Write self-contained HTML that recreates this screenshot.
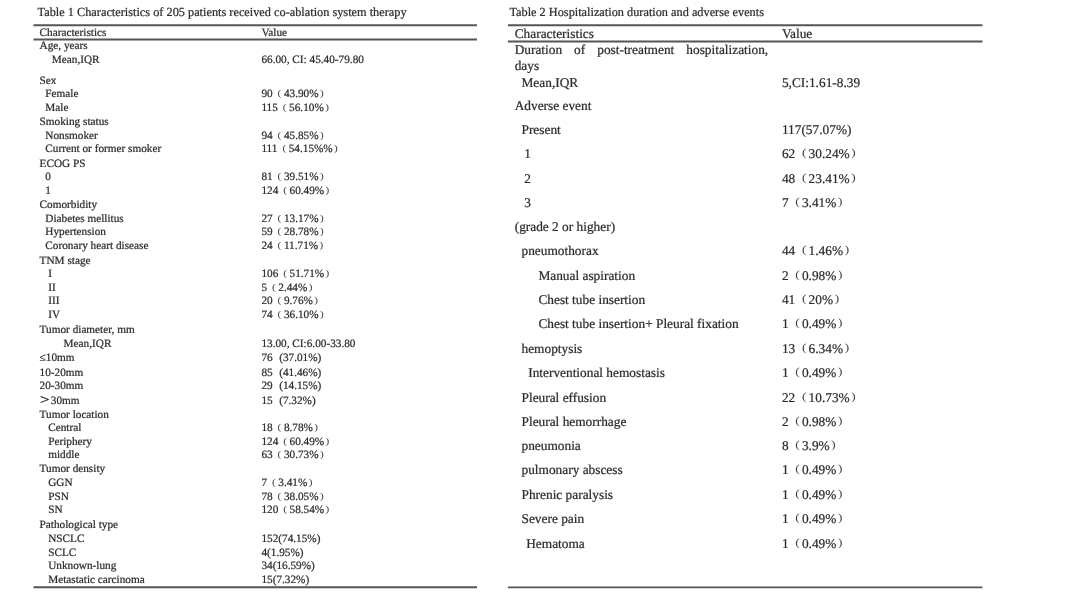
<!DOCTYPE html>
<html><head><meta charset="utf-8"><title>Tables</title>
<style>
html,body{margin:0;padding:0;background:#fff;}
body{width:1080px;height:608px;position:relative;overflow:hidden;font-family:"Liberation Serif",serif;color:#2b2b2b;}
.t{position:absolute;white-space:nowrap;line-height:1;text-rendering:geometricPrecision;-webkit-text-stroke:0.22px #2b2b2b;}
#wrap{position:absolute;left:0;top:0;width:1080px;height:608px;filter:grayscale(1);}
.j{display:flex;justify-content:space-between;}
.rs{position:absolute;left:0;top:0;}
.lp,.rp{display:inline-block;width:1em;box-sizing:border-box;transform-origin:50% 60%;transform:translateY(-0.1em) scaleY(0.8);color:#444;-webkit-text-stroke:0;}
.lp{padding-left:0.44em;}
.t2 .lp{padding-left:0.5em;}
.rp{padding-left:0.12em;}
.g{display:inline-block;width:0.58em;}
.gt{display:inline-block;width:1em;transform:scale(1.5,1.2);transform-origin:0 75%;}
</style></head><body>
<div id="wrap">
<svg class="rs" width="1080" height="608" viewBox="0 0 1080 608"><g stroke="#555"><line x1="33.5" x2="477" y1="25.3" y2="25.3" stroke-width="1.9"/><line x1="33.5" x2="477" y1="39.45" y2="39.45" stroke-width="1.9"/><line x1="33.5" x2="477" y1="587.2" y2="587.2" stroke-width="1.9"/><line x1="507.9" x2="982.4" y1="25.2" y2="25.2" stroke-width="1.9"/><line x1="507.9" x2="982.4" y1="41.5" y2="41.5" stroke-width="1.9"/><line x1="507.9" x2="982.4" y1="587.4" y2="587.4" stroke-width="1.9"/></g></svg>
<div class="t" style="left:37.6px;top:6.00px;font-size:12.3px;">Table 1 Characteristics of 205 patients received co-ablation system therapy</div>
<div class="t" style="left:39.6px;top:28.00px;font-size:11.25px;">Characteristics</div>
<div class="t" style="left:261.4px;top:28.00px;font-size:11.25px;">Value</div>
<div class="t" style="left:39.6px;top:41.00px;font-size:11.25px;">Age, years</div>
<div class="t" style="left:51.8px;top:55.00px;font-size:11.25px;">Mean,IQR</div>
<div class="t" style="left:261.4px;top:55.00px;font-size:11.25px;">66.00, CI: 45.40-79.80</div>
<div class="t" style="left:39.6px;top:76.00px;font-size:11.25px;">Sex</div>
<div class="t" style="left:45.3px;top:89.00px;font-size:11.25px;">Female</div>
<div class="t" style="left:261.4px;top:89.00px;font-size:11.25px;">90<span class="lp">(</span>43.90%<span class="rp">)</span></div>
<div class="t" style="left:45.3px;top:103.00px;font-size:11.25px;">Male</div>
<div class="t" style="left:261.4px;top:103.00px;font-size:11.25px;">115<span class="lp">(</span>56.10%<span class="rp">)</span></div>
<div class="t" style="left:39.6px;top:117.00px;font-size:11.25px;">Smoking status</div>
<div class="t" style="left:45.3px;top:131.00px;font-size:11.25px;">Nonsmoker</div>
<div class="t" style="left:261.4px;top:131.00px;font-size:11.25px;">94<span class="lp">(</span>45.85%<span class="rp">)</span></div>
<div class="t" style="left:45.3px;top:144.00px;font-size:11.25px;">Current or former smoker</div>
<div class="t" style="left:261.4px;top:144.00px;font-size:11.25px;">111<span class="lp">(</span>54.15%%<span class="rp">)</span></div>
<div class="t" style="left:39.6px;top:159.00px;font-size:11.25px;">ECOG PS</div>
<div class="t" style="left:45.3px;top:172.00px;font-size:11.25px;">0</div>
<div class="t" style="left:261.4px;top:172.00px;font-size:11.25px;">81<span class="lp">(</span>39.51%<span class="rp">)</span></div>
<div class="t" style="left:45.3px;top:186.00px;font-size:11.25px;">1</div>
<div class="t" style="left:261.4px;top:186.00px;font-size:11.25px;">124<span class="lp">(</span>60.49%<span class="rp">)</span></div>
<div class="t" style="left:39.6px;top:200.00px;font-size:11.25px;">Comorbidity</div>
<div class="t" style="left:45.3px;top:214.00px;font-size:11.25px;">Diabetes mellitus</div>
<div class="t" style="left:261.4px;top:214.00px;font-size:11.25px;">27<span class="lp">(</span>13.17%<span class="rp">)</span></div>
<div class="t" style="left:45.3px;top:227.00px;font-size:11.25px;">Hypertension</div>
<div class="t" style="left:261.4px;top:227.00px;font-size:11.25px;">59<span class="lp">(</span>28.78%<span class="rp">)</span></div>
<div class="t" style="left:45.3px;top:241.00px;font-size:11.25px;">Coronary heart disease</div>
<div class="t" style="left:261.4px;top:241.00px;font-size:11.25px;">24<span class="lp">(</span>11.71%<span class="rp">)</span></div>
<div class="t" style="left:39.6px;top:256.00px;font-size:11.25px;">TNM stage</div>
<div class="t" style="left:48.2px;top:269.00px;font-size:11.25px;">I</div>
<div class="t" style="left:261.4px;top:269.00px;font-size:11.25px;">106<span class="lp">(</span>51.71%<span class="rp">)</span></div>
<div class="t" style="left:48.2px;top:283.00px;font-size:11.25px;">II</div>
<div class="t" style="left:261.4px;top:283.00px;font-size:11.25px;">5<span class="lp">(</span>2.44%<span class="rp">)</span></div>
<div class="t" style="left:48.2px;top:296.00px;font-size:11.25px;">III</div>
<div class="t" style="left:261.4px;top:296.00px;font-size:11.25px;">20<span class="lp">(</span>9.76%<span class="rp">)</span></div>
<div class="t" style="left:48.2px;top:310.00px;font-size:11.25px;">IV</div>
<div class="t" style="left:261.4px;top:310.00px;font-size:11.25px;">74<span class="lp">(</span>36.10%<span class="rp">)</span></div>
<div class="t" style="left:39.6px;top:325.00px;font-size:11.25px;">Tumor diameter, mm</div>
<div class="t" style="left:63.6px;top:339.00px;font-size:11.25px;">Mean,IQR</div>
<div class="t" style="left:261.4px;top:339.00px;font-size:11.25px;">13.00, CI:6.00-33.80</div>
<div class="t" style="left:39.6px;top:353.00px;font-size:11.25px;">≤10mm</div>
<div class="t" style="left:261.4px;top:353.00px;font-size:11.25px;">76<span class="g"></span>(37.01%)</div>
<div class="t" style="left:39.6px;top:368.00px;font-size:11.25px;">10-20mm</div>
<div class="t" style="left:261.4px;top:368.00px;font-size:11.25px;">85<span class="g"></span>(41.46%)</div>
<div class="t" style="left:39.6px;top:381.00px;font-size:11.25px;">20-30mm</div>
<div class="t" style="left:261.4px;top:381.00px;font-size:11.25px;">29<span class="g"></span>(14.15%)</div>
<div class="t" style="left:39.6px;top:396.00px;font-size:11.25px;"><span class="gt">&gt;</span>30mm</div>
<div class="t" style="left:261.4px;top:396.00px;font-size:11.25px;">15<span class="g"></span>(7.32%)</div>
<div class="t" style="left:39.6px;top:410.00px;font-size:11.25px;">Tumor location</div>
<div class="t" style="left:48.2px;top:423.00px;font-size:11.25px;">Central</div>
<div class="t" style="left:261.4px;top:423.00px;font-size:11.25px;">18<span class="lp">(</span>8.78%<span class="rp">)</span></div>
<div class="t" style="left:48.2px;top:437.00px;font-size:11.25px;">Periphery</div>
<div class="t" style="left:261.4px;top:437.00px;font-size:11.25px;">124<span class="lp">(</span>60.49%<span class="rp">)</span></div>
<div class="t" style="left:48.2px;top:450.00px;font-size:11.25px;">middle</div>
<div class="t" style="left:261.4px;top:450.00px;font-size:11.25px;">63<span class="lp">(</span>30.73%<span class="rp">)</span></div>
<div class="t" style="left:39.6px;top:464.00px;font-size:11.25px;">Tumor density</div>
<div class="t" style="left:48.2px;top:478.00px;font-size:11.25px;">GGN</div>
<div class="t" style="left:261.4px;top:478.00px;font-size:11.25px;">7<span class="lp">(</span>3.41%<span class="rp">)</span></div>
<div class="t" style="left:48.2px;top:492.00px;font-size:11.25px;">PSN</div>
<div class="t" style="left:261.4px;top:492.00px;font-size:11.25px;">78<span class="lp">(</span>38.05%<span class="rp">)</span></div>
<div class="t" style="left:48.2px;top:505.00px;font-size:11.25px;">SN</div>
<div class="t" style="left:261.4px;top:505.00px;font-size:11.25px;">120<span class="lp">(</span>58.54%<span class="rp">)</span></div>
<div class="t" style="left:39.6px;top:520.00px;font-size:11.25px;">Pathological type</div>
<div class="t" style="left:48.2px;top:534.00px;font-size:11.25px;">NSCLC</div>
<div class="t" style="left:261.4px;top:534.00px;font-size:11.25px;">152(74.15%)</div>
<div class="t" style="left:48.2px;top:548.00px;font-size:11.25px;">SCLC</div>
<div class="t" style="left:261.4px;top:548.00px;font-size:11.25px;">4(1.95%)</div>
<div class="t" style="left:48.2px;top:561.00px;font-size:11.25px;">Unknown-lung</div>
<div class="t" style="left:261.4px;top:561.00px;font-size:11.25px;">34(16.59%)</div>
<div class="t" style="left:48.2px;top:575.00px;font-size:11.25px;">Metastatic carcinoma</div>
<div class="t" style="left:261.4px;top:575.00px;font-size:11.25px;">15(7.32%)</div>
<div class="t" style="left:509.4px;top:6.00px;font-size:12.3px;">Table 2 Hospitalization duration and adverse events</div>
<div class="t t2" style="left:514.7px;top:27.00px;font-size:13.35px;">Characteristics</div>
<div class="t t2" style="left:781.9px;top:27.00px;font-size:13.35px;">Value</div>
<div class="t j" style="left:514.7px;top:43.00px;width:253.5px;font-size:13.35px"><span>Duration</span><span>of</span><span>post-treatment</span><span>hospitalization,</span></div>
<div class="t t2" style="left:514.7px;top:59.00px;font-size:13.35px;">days</div>
<div class="t t2" style="left:521.5px;top:76.00px;font-size:13.35px;">Mean,IQR</div>
<div class="t t2" style="left:781.9px;top:76.00px;font-size:13.35px;">5,CI:1.61-8.39</div>
<div class="t t2" style="left:514.7px;top:99.00px;font-size:13.35px;">Adverse event</div>
<div class="t t2" style="left:521.5px;top:123.00px;font-size:13.35px;">Present</div>
<div class="t t2" style="left:781.9px;top:123.00px;font-size:13.35px;">117(57.07%)</div>
<div class="t t2" style="left:524.2px;top:147.00px;font-size:13.35px;">1</div>
<div class="t t2" style="left:781.9px;top:147.00px;font-size:13.35px;">62<span class="lp">(</span>30.24%<span class="rp">)</span></div>
<div class="t t2" style="left:524.2px;top:172.00px;font-size:13.35px;">2</div>
<div class="t t2" style="left:781.9px;top:172.00px;font-size:13.35px;">48<span class="lp">(</span>23.41%<span class="rp">)</span></div>
<div class="t t2" style="left:524.2px;top:196.00px;font-size:13.35px;">3</div>
<div class="t t2" style="left:781.9px;top:196.00px;font-size:13.35px;">7<span class="lp">(</span>3.41%<span class="rp">)</span></div>
<div class="t t2" style="left:514.7px;top:220.00px;font-size:13.35px;">(grade 2 or higher)</div>
<div class="t t2" style="left:521.5px;top:244.00px;font-size:13.35px;">pneumothorax</div>
<div class="t t2" style="left:781.9px;top:244.00px;font-size:13.35px;">44<span class="lp">(</span>1.46%<span class="rp">)</span></div>
<div class="t t2" style="left:538.4px;top:269.00px;font-size:13.35px;">Manual aspiration</div>
<div class="t t2" style="left:781.9px;top:269.00px;font-size:13.35px;">2<span class="lp">(</span>0.98%<span class="rp">)</span></div>
<div class="t t2" style="left:538.4px;top:293.00px;font-size:13.35px;">Chest tube insertion</div>
<div class="t t2" style="left:781.9px;top:293.00px;font-size:13.35px;">41<span class="lp">(</span>20%<span class="rp">)</span></div>
<div class="t t2" style="left:538.4px;top:317.00px;font-size:13.35px;">Chest tube insertion+ Pleural fixation</div>
<div class="t t2" style="left:781.9px;top:317.00px;font-size:13.35px;">1<span class="lp">(</span>0.49%<span class="rp">)</span></div>
<div class="t t2" style="left:521.5px;top:342.00px;font-size:13.35px;">hemoptysis</div>
<div class="t t2" style="left:781.9px;top:342.00px;font-size:13.35px;">13<span class="lp">(</span>6.34%<span class="rp">)</span></div>
<div class="t t2" style="left:528.2px;top:366.00px;font-size:13.35px;">Interventional hemostasis</div>
<div class="t t2" style="left:781.9px;top:366.00px;font-size:13.35px;">1<span class="lp">(</span>0.49%<span class="rp">)</span></div>
<div class="t t2" style="left:521.5px;top:391.00px;font-size:13.35px;">Pleural effusion</div>
<div class="t t2" style="left:781.9px;top:391.00px;font-size:13.35px;">22<span class="lp">(</span>10.73%<span class="rp">)</span></div>
<div class="t t2" style="left:521.5px;top:415.00px;font-size:13.35px;">Pleural hemorrhage</div>
<div class="t t2" style="left:781.9px;top:415.00px;font-size:13.35px;">2<span class="lp">(</span>0.98%<span class="rp">)</span></div>
<div class="t t2" style="left:521.5px;top:439.00px;font-size:13.35px;">pneumonia</div>
<div class="t t2" style="left:781.9px;top:439.00px;font-size:13.35px;">8<span class="lp">(</span>3.9%<span class="rp">)</span></div>
<div class="t t2" style="left:521.5px;top:463.00px;font-size:13.35px;">pulmonary abscess</div>
<div class="t t2" style="left:781.9px;top:463.00px;font-size:13.35px;">1<span class="lp">(</span>0.49%<span class="rp">)</span></div>
<div class="t t2" style="left:521.5px;top:488.00px;font-size:13.35px;">Phrenic paralysis</div>
<div class="t t2" style="left:781.9px;top:488.00px;font-size:13.35px;">1<span class="lp">(</span>0.49%<span class="rp">)</span></div>
<div class="t t2" style="left:521.5px;top:512.00px;font-size:13.35px;">Severe pain</div>
<div class="t t2" style="left:781.9px;top:512.00px;font-size:13.35px;">1<span class="lp">(</span>0.49%<span class="rp">)</span></div>
<div class="t t2" style="left:526.2px;top:537.00px;font-size:13.35px;">Hematoma</div>
<div class="t t2" style="left:781.9px;top:537.00px;font-size:13.35px;">1<span class="lp">(</span>0.49%<span class="rp">)</span></div>
</div>
</body></html>
